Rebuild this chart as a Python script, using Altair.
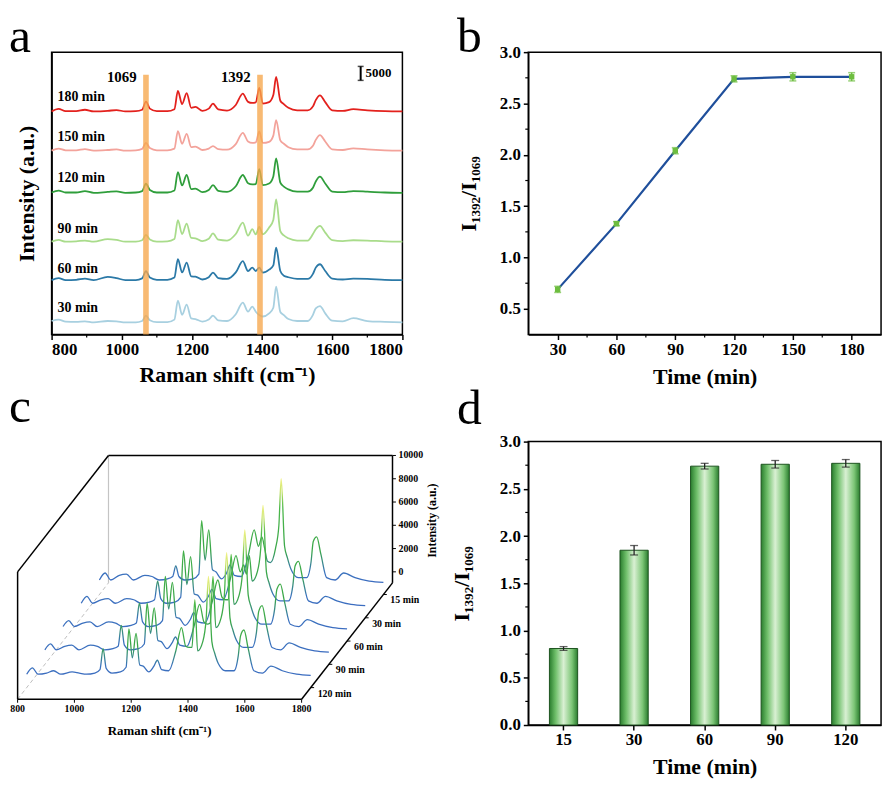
import altair as alt
import pandas as pd

FONT = "Liberation Serif"

# ---------------- shared Raman-shift grid (cm-1) ----------------
raman = [800, 820, 840, 870, 895, 920, 960, 985,
         1010, 1040, 1058, 1069, 1080,
         1100, 1130, 1150, 1160, 1172, 1185, 1198,
         1210, 1230, 1248, 1260, 1275, 1300,
         1325, 1345, 1360, 1372, 1382, 1392, 1402,
         1420, 1432, 1440, 1452, 1462, 1475, 1500,
         1530, 1545, 1553, 1565, 1580,
         1600, 1630, 1660, 1700, 1750, 1800]

# ---------------- panel a: spectra (intensity above own baseline) ----------------
a_180 = [200, 1100, 300, 300, 800, 200, 400, 700,
         200, 300, 800, 3700, 1200,
         300, 300, 1000, 7500, 2800, 6700, 1500,
         1800, 400, 1200, 3000, 900, 500,
         2500, 6500, 3600, 3200, 3400, 8500, 3000,
         3500, 6000, 12400, 4000, 2800, 1500, 600,
         600, 2000, 4200, 5900, 3500,
         600, 400, 1000, 600, 300, 200]
a_150 = [200, 900, 300, 300, 700, 200, 400, 600,
         200, 300, 800, 2950, 1100,
         300, 300, 900, 7100, 2600, 6100, 1400,
         1600, 400, 900, 1800, 700, 500,
         2500, 6500, 3400, 2900, 3100, 7000, 2900,
         3300, 5500, 11000, 3800, 2600, 1400, 600,
         600, 1900, 4000, 5700, 3400,
         600, 400, 1000, 600, 300, 200]
a_120 = [300, 1000, 300, 300, 800, 200, 500, 700,
         200, 300, 800, 3400, 1200,
         300, 300, 1000, 7550, 2800, 6500, 1500,
         1700, 400, 1200, 2950, 900, 500,
         2500, 6500, 3600, 3200, 3300, 8600, 2900,
         3500, 6000, 12400, 3800, 2400, 1400, 600,
         600, 2000, 4200, 5900, 3500,
         600, 400, 800, 600, 300, 200]
a_90 = [300, 900, 300, 400, 700, 300, 1200, 900,
        300, 300, 800, 2700, 1100,
        300, 400, 1200, 7900, 3000, 6700, 1600,
        1500, 500, 1300, 3200, 1000, 700,
        3000, 7000, 2400, 4700, 2900, 5500, 2900,
        5300, 8000, 15300, 4000, 2500, 1500, 700,
        700, 3000, 4700, 5900, 3500,
        800, 500, 800, 700, 400, 300]
a_60 = [300, 1000, 300, 400, 800, 300, 1400, 1000,
        300, 300, 900, 3500, 1200,
        400, 400, 1200, 7700, 3000, 6500, 1600,
        1500, 500, 1300, 2950, 1000, 700,
        3000, 7000, 3500, 4700, 3500, 4700, 2900,
        4000, 5500, 11800, 3500, 1800, 1300, 700,
        700, 2500, 4700, 5900, 3500,
        800, 500, 800, 700, 400, 300]
a_30 = [800, 1300, 600, 500, 700, 300, 800, 700,
        300, 300, 800, 2700, 1100,
        400, 400, 1300, 8000, 3000, 6600, 1700,
        1500, 600, 1300, 2700, 1000, 800,
        3200, 7300, 4100, 5900, 4100, 2900, 2400,
        3500, 5500, 13000, 4000, 2900, 1500, 800,
        800, 3000, 5300, 6100, 3500,
        900, 700, 1800, 800, 500, 300]

a_labels = ["180 min", "150 min", "120 min", "90 min", "60 min", "30 min"]
a_series = [a_180, a_150, a_120, a_90, a_60, a_30]
a_offsets = [78800, 64950, 50000, 32600, 19000, 4000]
a_label_y = [84000, 69900, 55400, 37200, 23200, 9400]
a_label_x = 817
a_colors = ["#e3211d", "#f3a39b", "#2f9e3b", "#a9dc8b", "#2b79a7", "#a8d0e0"]

band_lo = [1061, 1386]
band_hi = [1077, 1402]
band_top = 92000
peak_labels = ["1069", "1392"]
peak_label_x = [1000, 1325]
peak_label_y = 91100

scalebar_x = 1681
scalebar_lo = 90000
scalebar_hi = 94950
scalebar_text = "5000"

a_major = [800, 1000, 1200, 1400, 1600, 1800]
a_minor = [900, 1100, 1300, 1500, 1700]

# ---------------- panel b ----------------
b_time = [30, 60, 90, 120, 150, 180]
b_ratio = [0.69, 1.33, 2.04, 2.74, 2.76, 2.76]
b_err = [0.03, 0.02, 0.03, 0.03, 0.04, 0.04]
b_yticks = [0.5, 1.0, 1.5, 2.0, 2.5, 3.0]
b_minor_x = [45, 75, 105, 135, 165]
b_minor_y = [0.75, 1.25, 1.75, 2.25, 2.75]

# ---------------- panel c: 3D waterfall ----------------
c_15 = [300, 900, 300, 700, 800, 300, 700, 600,
        300, 400, 600, 1500, 600,
        300, 400, 800, 5400, 2000, 4600, 1200,
        1000, 400, 900, 1600, 700, 600,
        2500, 4600, 3200, 4000, 3000, 1900, 1800,
        3000, 5000, 9000, 3200, 2200, 1200, 500,
        500, 1800, 3600, 4000, 2500,
        500, 300, 900, 500, 200, 100]
c_30 = [300, 900, 300, 600, 700, 300, 700, 600,
        300, 400, 600, 2200, 700,
        300, 400, 800, 4800, 1900, 4300, 1100,
        1000, 400, 900, 1500, 700, 600,
        2400, 4400, 3000, 3600, 2800, 4400, 2200,
        3000, 5000, 8700, 3000, 2000, 1100, 500,
        500, 1800, 3500, 3900, 2400,
        500, 300, 900, 500, 200, 100]
c_60 = [300, 800, 300, 600, 700, 300, 700, 600,
        300, 400, 600, 2300, 700,
        300, 400, 800, 4600, 1800, 4100, 1100,
        1000, 400, 900, 1500, 700, 600,
        2400, 4300, 2800, 2600, 2600, 6500, 2200,
        3000, 5000, 8600, 3000, 2000, 1100, 500,
        500, 1800, 3500, 3950, 2400,
        500, 300, 900, 500, 200, 100]
c_90 = [300, 800, 300, 600, 700, 300, 700, 600,
        300, 400, 600, 2400, 700,
        300, 400, 800, 4300, 1700, 3900, 1100,
        1000, 400, 900, 1400, 700, 600,
        2300, 4200, 2700, 2500, 2600, 6600, 2200,
        3000, 5000, 8650, 3000, 2000, 1100, 500,
        500, 1800, 3600, 4100, 2400,
        500, 300, 900, 500, 200, 100]
c_120 = [200, 750, 200, 300, 500, 200, 400, 300,
         200, 300, 600, 2400, 700,
         300, 400, 800, 4100, 1600, 3700, 1000,
         900, 400, 900, 1400, 600, 500,
         2200, 4200, 2600, 2500, 2500, 6600, 2200,
         3000, 5000, 8600, 3000, 2000, 1100, 500,
         500, 1800, 3500, 4000, 2400,
         500, 300, 900, 500, 200, 100]
c_labels = ["15 min", "30 min", "60 min", "90 min", "120 min"]
c_series = [c_15, c_30, c_60, c_90, c_120]
c_depth = [0.9, 0.7, 0.5, 0.3, 0.1]
c_xticks = [800, 1000, 1200, 1400, 1600, 1800]
c_zticks = [0, 2000, 4000, 6000, 8000, 10000]
c_rmin, c_rmax = 800, 1800
c_zmin, c_zmax = -950, 10000
DX, DY = 320, 10000   # projection of the depth axis (in x / intensity units)

# ---------------- panel d ----------------
d_time = ["15", "30", "60", "90", "120"]
d_ratio = [0.81, 1.85, 2.74, 2.76, 2.77]
d_err = [0.02, 0.05, 0.03, 0.04, 0.04]
d_yticks = [0.0, 0.5, 1.0, 1.5, 2.0, 2.5, 3.0]
d_minor_y = [0.25, 0.75, 1.25, 1.75, 2.25, 2.75]

RATIO_TITLE = "I\u2081\u2083\u2089\u2082/I\u2081\u2080\u2086\u2089"
FRAME = alt.ViewBackground(stroke="black", strokeWidth=1.5)


def letter(ch, xv, yv):
    return alt.Chart(pd.DataFrame({"t": [ch]})).mark_text(
        align="left", baseline="alphabetic", font=FONT, fontSize=50, color="black"
    ).encode(text="t:N", x=alt.value(xv), y=alt.value(yv))


# =============== PANEL A ===============
W_A, H_A = 354, 285
xa_scale = alt.Scale(domain=[800, 1800], nice=False, zero=False)
ya_scale = alt.Scale(domain=[0, 100000], nice=False, zero=False)
xa_axis = alt.Axis(values=a_major, format="d", title="Raman shift (cm\u207b\u00b9)", labelFontSize=17,
                   titleFontSize=22, tickSize=5, tickWidth=1.5, domainWidth=1.5,
                   labelPadding=2, titlePadding=7)
ya_axis = alt.Axis(labels=False, ticks=False, title="Intensity (a.u.)", titleFontSize=22,
                   titlePadding=13, domainWidth=1.5)


def XA(f):
    return alt.X(f, scale=xa_scale, axis=xa_axis)


def YA(f):
    return alt.Y(f, scale=ya_scale, axis=ya_axis)


rows = []
for lab, vals, off in zip(a_labels, a_series, a_offsets):
    for r, v in zip(raman, vals):
        rows.append({"raman": r, "inten": v, "offset": off, "series": lab})
df_a = pd.DataFrame(rows)

lines_a = alt.Chart(df_a).transform_calculate(
    ys="datum.inten + datum.offset"
).mark_line(strokeWidth=1.8, interpolate="monotone").encode(
    x=XA("raman:Q"), y=YA("ys:Q"),
    color=alt.Color("series:N", scale=alt.Scale(domain=a_labels, range=a_colors), legend=None),
    detail="series:N",
)

df_band = pd.DataFrame({"lo": band_lo, "hi": band_hi, "bot": [0, 0], "top": [band_top] * 2})
bands = alt.Chart(df_band).mark_rect(color="#f6a64c", opacity=0.78).encode(
    x=XA("lo:Q"), x2="hi:Q", y=YA("bot:Q"), y2="top:Q"
)

df_alab = pd.DataFrame({"lab": a_labels, "x": [a_label_x] * 6, "y": a_label_y})
labels_a = alt.Chart(df_alab).mark_text(
    align="left", baseline="middle", font=FONT, fontWeight="bold", fontSize=14, color="black"
).encode(x=XA("x:Q"), y=YA("y:Q"), text="lab:N")

df_pk = pd.DataFrame({"lab": peak_labels, "x": peak_label_x, "y": [peak_label_y] * 2})
peaks_a = alt.Chart(df_pk).mark_text(
    align="center", baseline="middle", font=FONT, fontWeight="bold", fontSize=15, color="black"
).encode(x=XA("x:Q"), y=YA("y:Q"), text="lab:N")

df_sb = pd.DataFrame({"x": [scalebar_x], "lo": [scalebar_lo], "hi": [scalebar_hi], "t": [scalebar_text]})
sb_rule = alt.Chart(df_sb).mark_rule(color="black", strokeWidth=2).encode(
    x=XA("x:Q"), y=YA("lo:Q"), y2="hi:Q")
sb_caps = alt.Chart(df_sb).transform_fold(["lo", "hi"], as_=["k", "v"]).mark_tick(
    color="black", orient="horizontal", size=6, thickness=1.5).encode(x=XA("x:Q"), y=YA("v:Q"))
sb_text = alt.Chart(df_sb).transform_calculate(ym="(datum.lo + datum.hi) / 2").mark_text(
    align="left", baseline="middle", dx=5, font=FONT, fontWeight="bold", fontSize=13, color="black"
).encode(x=XA("x:Q"), y=YA("ym:Q"), text="t:N")

minor_a = alt.Chart(pd.DataFrame({"m": a_minor})).mark_rule(color="black", strokeWidth=1.2).encode(
    x=XA("m:Q"), y=alt.value(H_A), y2=alt.value(H_A + 3))

panel_a = alt.layer(lines_a, bands, labels_a, peaks_a, sb_rule, sb_caps, sb_text, minor_a,
                    letter("a", -43, 0)).properties(width=W_A, height=H_A, view=FRAME)

# =============== PANEL B ===============
W_B, H_B = 356, 285
green = "#6dbd3f"
xb_scale = alt.Scale(domain=[15, 195], nice=False, zero=False)
yb_scale = alt.Scale(domain=[0.25, 3.0], nice=False, zero=False)
xb_axis = alt.Axis(values=b_time, title="Time (min)", labelFontSize=17, titleFontSize=22,
                   tickSize=5, tickWidth=1.5, domainWidth=1.5, labelPadding=2, titlePadding=9)
yb_axis = alt.Axis(values=b_yticks, format=".1f", title=RATIO_TITLE, labelFontSize=17,
                   titleFontSize=22, tickSize=5, tickWidth=1.5, domainWidth=1.5,
                   labelPadding=3, titlePadding=19)


def XB(f):
    return alt.X(f, scale=xb_scale, axis=xb_axis)


def YB(f):
    return alt.Y(f, scale=yb_scale, axis=yb_axis)


df_b = pd.DataFrame({"t": b_time, "r": b_ratio, "e": b_err})
base_b = alt.Chart(df_b).transform_calculate(lo="datum.r - datum.e", hi="datum.r + datum.e")
line_b = base_b.mark_line(color="#1f4f9b", strokeWidth=2.2).encode(x=XB("t:Q"), y=YB("r:Q"))
err_b = base_b.mark_rule(color=green, strokeWidth=1.5).encode(x=XB("t:Q"), y=YB("lo:Q"), y2="hi:Q")
caps_b = base_b.transform_fold(["lo", "hi"], as_=["k", "v"]).mark_tick(
    color=green, orient="horizontal", size=7, thickness=1.5).encode(x=XB("t:Q"), y=YB("v:Q"))
pts_b = base_b.mark_square(size=30, color=green, opacity=1).encode(x=XB("t:Q"), y=YB("r:Q"))
minx_b = alt.Chart(pd.DataFrame({"m": b_minor_x})).mark_rule(color="black", strokeWidth=1.2).encode(
    x=XB("m:Q"), y=alt.value(H_B), y2=alt.value(H_B + 3))
miny_b = alt.Chart(pd.DataFrame({"m": b_minor_y})).mark_rule(color="black", strokeWidth=1.2).encode(
    y=YB("m:Q"), x=alt.value(0), x2=alt.value(-3))

panel_b = alt.layer(line_b, err_b, caps_b, pts_b, minx_b, miny_b, letter("b", -72, 0)).properties(
    width=W_B, height=H_B, view=FRAME)

# =============== PANEL C ===============
W_C, H_C = 354, 286
xc_scale = alt.Scale(domain=[919.7, 2154.9], nice=False, zero=False)
yc_scale = alt.Scale(domain=[-3165, 21193], nice=False, zero=False)


def XC(f):
    return alt.X(f, scale=xc_scale, axis=None)


def YC(f):
    return alt.Y(f, scale=yc_scale, axis=None)


PX = "datum.r + datum.d * %d" % DX
PY = "datum.z + datum.d * %d" % DY

rows = []
for lab, vals, d in zip(c_labels, c_series, c_depth):
    for r, v in zip(raman, vals):
        rows.append({"r": r, "z": v, "d": d, "series": lab})
df_c = pd.DataFrame(rows)

grad_c = alt.Gradient(
    gradient="linear", x1=0, x2=0, y1=1, y2=0,
    stops=[alt.GradientStop(color="#3b6cc0", offset=0),
           alt.GradientStop(color="#3b73bd", offset=0.1),
           alt.GradientStop(color="#3aa64a", offset=0.3),
           alt.GradientStop(color="#4cb84a", offset=0.72),
           alt.GradientStop(color="#c9e46a", offset=0.88),
           alt.GradientStop(color="#f1f28a", offset=1)])

lines_c = alt.Chart(df_c).transform_calculate(sx=PX, sy=PY).mark_line(
    strokeWidth=1.3, interpolate="monotone", stroke=grad_c
).encode(x=XC("sx:Q"), y=YC("sy:Q"), detail="series:N", order="r:Q")


def seg_chart(df, color, dash=None, width=1.5):
    kw = dict(color=color, strokeWidth=width)
    if dash:
        kw["strokeDash"] = dash
    return alt.Chart(df).transform_calculate(
        x1="datum.r1 + datum.d1 * %d" % DX, y1="datum.z1 + datum.d1 * %d" % DY,
        x2="datum.r2 + datum.d2 * %d" % DX, y2="datum.z2 + datum.d2 * %d" % DY,
    ).mark_rule(**kw).encode(x=XC("x1:Q"), y=YC("y1:Q"), x2="x2:Q", y2="y2:Q")


box_black = pd.DataFrame({
    "r1": [c_rmin, c_rmin, c_rmin, c_rmin, c_rmax, c_rmax],
    "z1": [c_zmin, c_zmin, c_zmax, c_zmax, c_zmin, c_zmin],
    "d1": [0, 0, 0, 1, 1, 0],
    "r2": [c_rmax, c_rmin, c_rmin, c_rmax, c_rmax, c_rmax],
    "z2": [c_zmin, c_zmax, c_zmax, c_zmax, c_zmax, c_zmin],
    "d2": [0, 0, 1, 1, 1, 1],
})
box_gray = pd.DataFrame({"r1": [c_rmin], "z1": [c_zmin], "d1": [1],
                         "r2": [c_rmin], "z2": [c_zmax], "d2": [1]})
box_dash = pd.DataFrame({"r1": [c_rmin], "z1": [c_zmin], "d1": [0],
                         "r2": [c_rmin], "z2": [c_zmin], "d2": [1]})

# tick marks
tk_x = pd.DataFrame({"r1": c_xticks, "z1": [c_zmin] * 6, "d1": [0] * 6,
                     "r2": c_xticks, "z2": [c_zmin - 300] * 6, "d2": [0] * 6})
tk_z = pd.DataFrame({"r1": [c_rmax] * 6, "z1": c_zticks, "d1": [1] * 6,
                     "r2": [c_rmax + 12] * 6, "z2": c_zticks, "d2": [1] * 6})
tk_d = pd.DataFrame({"r1": [c_rmax] * 5, "z1": [c_zmin] * 5, "d1": c_depth,
                     "r2": [c_rmax + 12] * 5, "z2": [c_zmin] * 5, "d2": c_depth})

c_txt = dict(font=FONT, fontWeight="bold", fontSize=10, color="black")
lab_x = alt.Chart(pd.DataFrame({"r": c_xticks, "z": [c_zmin] * 6, "d": [0] * 6})).transform_calculate(
    sx=PX, sy=PY).mark_text(align="center", baseline="top", dy=5, **c_txt).encode(
    x=XC("sx:Q"), y=YC("sy:Q"), text="r:Q")
lab_z = alt.Chart(pd.DataFrame({"r": [c_rmax] * 6, "z": c_zticks, "d": [1] * 6})).transform_calculate(
    sx=PX, sy=PY).mark_text(align="left", baseline="middle", dx=6, **c_txt).encode(
    x=XC("sx:Q"), y=YC("sy:Q"), text="z:Q")
lab_d = alt.Chart(pd.DataFrame({"r": [c_rmax] * 5, "z": [c_zmin] * 5, "d": c_depth,
                                "lab": c_labels})).transform_calculate(
    sx=PX, sy=PY).mark_text(align="left", baseline="middle", dx=7, dy=6, **c_txt).encode(
    x=XC("sx:Q"), y=YC("sy:Q"), text="lab:N")
title_cx = alt.Chart(pd.DataFrame({"r": [1300], "z": [c_zmin], "d": [0],
                                   "t": ["Raman shift (cm\u207b\u00b9)"]})).transform_calculate(
    sx=PX, sy=PY).mark_text(align="center", baseline="middle", dy=32, font=FONT, fontWeight="bold",
                            fontSize=13, color="black").encode(x=XC("sx:Q"), y=YC("sy:Q"), text="t:N")
title_cz = alt.Chart(pd.DataFrame({"r": [1940], "z": [4400], "d": [1],
                                   "t": ["Intensity (a.u.)"]})).transform_calculate(
    sx=PX, sy=PY).mark_text(align="center", baseline="middle", angle=270, font=FONT,
                            fontWeight="bold", fontSize=12, color="black").encode(
    x=XC("sx:Q"), y=YC("sy:Q"), text="t:N")

panel_c = alt.layer(
    seg_chart(box_dash, "#bdbdbd", dash=[4, 3], width=1),
    seg_chart(box_gray, "#c4c4c4", width=1.2),
    lines_c,
    seg_chart(box_black, "black", width=1.5),
    seg_chart(tk_x, "black", width=1), seg_chart(tk_z, "black", width=1),
    seg_chart(tk_d, "black", width=1),
    lab_x, lab_z, lab_d, title_cx, title_cz, letter("c", -43, -20),
).properties(width=W_C, height=H_C)

# =============== PANEL D ===============
W_D, H_D = 356, 286
xd_scale = alt.Scale(domain=d_time, paddingInner=0.6, paddingOuter=0.3)
yd_scale = alt.Scale(domain=[0, 3.0], nice=False, zero=False)
xd_axis = alt.Axis(labelAngle=0, title="Time (min)", labelFontSize=17, titleFontSize=22,
                   tickSize=5, tickWidth=1.5, domainWidth=1.5, labelPadding=2, titlePadding=9)
yd_axis = alt.Axis(values=d_yticks, format=".1f", title=RATIO_TITLE, labelFontSize=17,
                   titleFontSize=22, tickSize=5, tickWidth=1.5, domainWidth=1.5,
                   labelPadding=3, titlePadding=26)


def XD(f):
    return alt.X(f, scale=xd_scale, axis=xd_axis, sort=d_time)


def YD(f):
    return alt.Y(f, scale=yd_scale, axis=yd_axis)


grad_bar = alt.Gradient(
    gradient="linear", x1=0, x2=1, y1=0, y2=0,
    stops=[alt.GradientStop(color="#2a7d2e", offset=0),
           alt.GradientStop(color="#6fbf6a", offset=0.22),
           alt.GradientStop(color="#d9f0d3", offset=0.5),
           alt.GradientStop(color="#7cc576", offset=0.8),
           alt.GradientStop(color="#2a7d2e", offset=1)])

df_d = pd.DataFrame({"t": d_time, "r": d_ratio, "e": d_err})
base_d = alt.Chart(df_d).transform_calculate(lo="datum.r - datum.e", hi="datum.r + datum.e")
bars_d = base_d.mark_bar(fill=grad_bar, stroke="#1d531f", strokeWidth=1).encode(
    x=XD("t:N"), y=YD("r:Q"))
err_d = base_d.mark_rule(color="#222222", strokeWidth=1.3).encode(x=XD("t:N"), y=YD("lo:Q"), y2="hi:Q")
caps_d = base_d.transform_fold(["lo", "hi"], as_=["k", "v"]).mark_tick(
    color="#222222", orient="horizontal", size=8, thickness=1.3).encode(x=XD("t:N"), y=YD("v:Q"))
miny_d = alt.Chart(pd.DataFrame({"m": d_minor_y})).mark_rule(color="black", strokeWidth=1.2).encode(
    y=YD("m:Q"), x=alt.value(0), x2=alt.value(-3))

panel_d = alt.layer(bars_d, err_d, caps_d, miny_d, letter("d", -72, -18)).properties(
    width=W_D, height=H_D, view=FRAME)

chart = alt.concat(
    panel_a, panel_b, panel_c, panel_d,
    columns=2, spacing={"row": 108, "column": 127}, bounds="flush", align="each",
).properties(
    padding={"left": 0, "top": 0, "right": 5, "bottom": 5}
).configure_view(stroke="transparent").configure_axis(
    labelFont=FONT, titleFont=FONT, labelFontWeight="bold", titleFontWeight="bold",
    labelColor="black", titleColor="black", domainColor="black", tickColor="black", grid=False,
)

chart.save("out.html", embed_options={"renderer": "svg", "actions": False})
